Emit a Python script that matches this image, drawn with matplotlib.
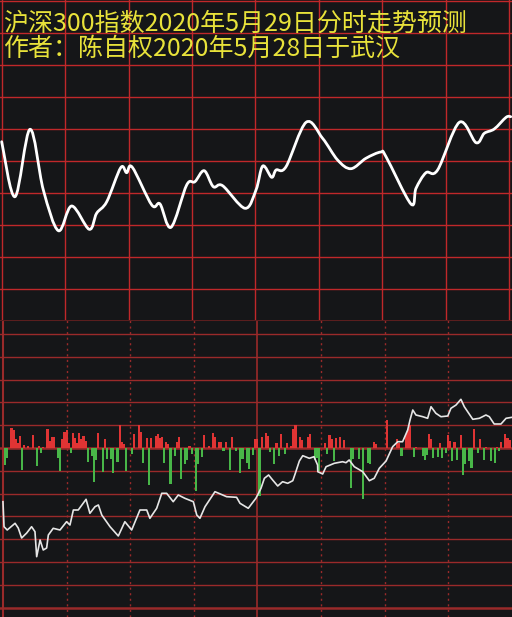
import matplotlib
matplotlib.use("Agg")
import matplotlib.pyplot as plt
from matplotlib.path import Path
from matplotlib.patches import PathPatch

plt.rcParams['font.family'] = ['Noto Sans CJK SC', 'DejaVu Sans']

# 标题文字
title1 = "沪深300指数2020年5月29日分时走势预测"
title2 = "作者：陈自权2020年5月28日于武汉"

# 上图：预测曲线（分钟序号, 数值）
pred_t = [0, 6.3, 13.4, 19.7, 26.8, 33.1, 41.4, 44.9, 49.7, 56.3, 59.1, 61.8, 71, 74.9,
          80.1, 87.5, 91.4, 95.8, 100.1, 104.5, 115.1, 120.3, 123.5, 127.7, 129.8, 134.5,
          144, 151.8, 158.9, 165.2, 172.3, 179.4, 181.8, 193.6, 196, 200.7, 206.2, 216.5,
          224.4, 228.3, 233, 238.6, 240.8]
pred_v = [178.3, 123.3, 190.7, 130, 89.3, 114, 90.7, 106.7, 118.3, 152.3, 147.3, 152.7, 115, 116,
          92.7, 135, 138.3, 149.3, 133.3, 134.3, 111.7, 130, 154, 142.7, 150, 153.3,
          197.7, 181.7, 160, 151.3, 161.7, 168, 163.3, 116, 131.7, 147.3, 150, 197.7,
          177.3, 186.7, 191, 202.7, 203.3]

# 下图：实际走势（分钟序号, 相对数值）
real_t = [0, 0.5, 2, 5.7, 7.2, 8.8, 11.2, 13.5, 15.1, 15.9, 17.5, 19, 20.6, 21.4, 23.7, 26.9,
          30, 31.6, 33.2, 35.5, 39.2, 41, 43.4, 45, 46.6, 50.5, 54.4, 57.5, 60.7, 64.6, 67.8,
          69.3, 72.5, 74.9, 77.2, 80.3, 82.7, 85.8, 89.8, 91.4, 92.9, 95.3, 100, 105.5, 110.2,
          111.8, 115.7, 119.3, 121.7, 123.3, 125.3, 127.2, 129.6, 131.9, 134.3, 136.7, 137.9,
          139.8, 141.4, 144.5, 146.7, 148.4, 148.5, 150.8, 152.4, 156.3, 160.2, 161.8, 163.3,
          165.7, 169.7, 172.8, 175.1, 177.5, 180.7, 183.8, 186.2, 188.5, 190.9, 192, 193.3,
          194.8, 198, 200.3, 201.9, 204.2, 206.6, 209.8, 211.3, 213.7, 216, 217.6, 221.6,
          224.7, 227.8, 229.4, 231.7, 234.9, 237.3, 240.1]
real_v = [-53.7, -78.7, -82, -75.3, -80, -90, -85, -78.7, -83.7, -108.7, -92, -102, -100, -87,
          -80.3, -82, -73.7, -77, -62, -62, -51.3, -65.3, -58.7, -57, -67, -78.7, -88, -73.7,
          -82, -62, -62, -70.3, -60.3, -45.3, -45.3, -53.7, -47, -50.3, -53.7, -67, -70.3,
          -58.7, -43.7, -48.7, -49.3, -55.3, -60.3, -50.3, -40.3, -30.3, -27, -32, -38, -33.7,
          -35.3, -32.7, -25.3, -13, -7.7, -10.3, -8.7, -17, -23.7, -26, -18.7, -15.3, -13.7,
          -14.7, -12, -18.7, -23.7, -32.7, -30.3, -20.3, -13, 1.3, 6.3, 6.3, 18, 28, 38, 33,
          31.3, 29.7, 41.3, 34.7, 31.3, 32, 39.7, 43, 48.7, 41.3, 28.7, 29.7, 33, 31.3, 24,
          24, 29.7, 30.7]

# 红柱（分钟序号, 高度）
up_t = [4, 5, 6, 7, 8, 10, 12, 14, 17, 19, 21, 22, 23, 24, 28, 29, 30, 31, 33, 34, 35, 36,
        37, 38, 39, 45, 48, 55, 56, 57, 62, 64, 65, 68, 70, 72, 73, 74, 75, 77, 78, 82, 83,
        88, 95, 97, 99, 100, 102, 103, 105, 108, 119, 120, 122, 124, 125, 129, 131, 134, 136,
        137, 138, 140, 141, 144, 145, 152, 154, 155, 157, 159, 161, 175, 176, 181, 186, 187,
        190, 191, 192, 195, 201, 202, 206, 210, 211, 213, 216, 222, 225, 228, 233, 235, 237,
        238, 239]
up_v = [19.7, 17.7, 8.7, 5.3, 12, 3, 2, 13, 1.7, 1, 18.7, 7, 11.3, 11.3, 8.7, 16.3, 18, 5.3,
        15.3, 9.7, 5.3, 14.7, 8.7, 12, 7, 15.3, 8.7, 23, 6.3, 3.7, 13.7, 22.7, 16.3, 9.7, 9.7,
        12, 13.7, 9.7, 11.3, 6.3, 4.3, 6.3, 11.3, 2, 12.7, 1.7, 15.3, 11, 6.3, 6.3, 6.3, 11.3,
        8.7, 8.7, 11, 15.3, 12, 5.3, 13.7, 5.3, 2, 18.7, 22.7, 11, 7.7, 11, 13.7, 5.3, 12.7,
        8.7, 9.7, 11.3, 7.7, 6.3, 3.7, 28, 8.7, 5.3, 13.7, 18.7, 22.7, 1.3, 13.7, 8.7, 5.3,
        13, 7, 6.3, 12.7, 18.7, 9.3, 1.3, 1.3, 6.3, 13.7, 9.7, 7.7]

# 绿柱（分钟序号, 高度）
down_t = [1, 2, 9, 16, 18, 26, 27, 32, 40, 42, 43, 44, 47, 49, 51, 52, 54, 58, 61, 66, 69, 76,
          79, 81, 84, 86, 87, 89, 91, 92, 94, 104, 107, 110, 112, 113, 115, 116, 118, 121, 126,
          128, 130, 133, 147, 148, 149, 153, 156, 164, 165, 168, 170, 172, 173, 188, 194, 198,
          199, 200, 203, 205, 207, 209, 212, 214, 217, 218, 220, 221, 224, 227, 230, 232, 234]
down_v = [17, 9.7, 22, 18, 5.3, 9.7, 23, 5.3, 13.7, 8, 34, 12, 23.7, 11.3, 11.3, 25.3, 13.7, 23,
          5.7, 14.7, 37.3, 14.7, 36.3, 8, 31.3, 16.3, 12.3, 5.7, 43, 16.3, 8.7, 3, 22.3, 3, 24.7,
          11.3, 14.7, 21.3, 7, 48, 3.7, 15.7, 8, 6.3, 12.3, 9.7, 23, 6.3, 13, 39.7, 11.3, 11.3,
          51, 14.7, 16.3, 8, 9, 8, 12.3, 7, 9.7, 9, 9.7, 4.7, 13, 12, 27, 16.3, 13, 19.7, 4.7,
          12.3, 13, 14.7, 3]

bg = '#151618'
grid_top = '#c0282a'
grid_bot = '#9a2a2a'


def smooth_path(xs, ys):
    # 用三次贝塞尔曲线把各点平滑连接（曲线经过每个数据点）
    pts = list(zip(xs, ys))
    n = len(pts)
    verts = [pts[0]]
    codes = [Path.MOVETO]
    for i in range(n - 1):
        p0 = pts[i - 1] if i > 0 else pts[i]
        p1 = pts[i]
        p2 = pts[i + 1]
        p3 = pts[i + 2] if i + 2 < n else pts[i + 1]
        c1 = (p1[0] + (p2[0] - p0[0]) / 6, p1[1] + (p2[1] - p0[1]) / 6)
        c2 = (p2[0] - (p3[0] - p1[0]) / 6, p2[1] - (p3[1] - p1[1]) / 6)
        verts += [c1, c2, p2]
        codes += [Path.CURVE4] * 3
    return Path(verts, codes)


fig = plt.figure(figsize=(5.12, 6.17), dpi=100, facecolor=bg)

# ---------- 上图 ----------
ax1 = fig.add_axes([0, 297 / 617, 1, 320 / 617])
ax1.set_facecolor(bg)
ax1.set_xlim(-0.8, 241.4)
ax1.set_ylim(0, 320)
for k in range(10):
    ax1.axhline(31 + 32 * k, color=grid_top, lw=1.0, zorder=1)
for k in range(9):
    ax1.axvline(30 * k, color=grid_top, lw=1.0, zorder=1)
ax1.add_patch(PathPatch(smooth_path(pred_t, pred_v), facecolor='none', edgecolor='white',
                        lw=2.0, joinstyle='round', capstyle='round', zorder=3))
ax1.set_xticks([])
ax1.set_yticks([])
for s in ax1.spines.values():
    s.set_visible(False)

# ---------- 下图 ----------
ax2 = fig.add_axes([0, 0, 1, 297 / 617])
ax2.set_facecolor(bg)
ax2.set_xlim(-1.4, 240.1)
ax2.set_ylim(-169, 128)
for k in range(-7, 6):
    lw = 1.8 if k in (0, -7) else 1.0
    ax2.axhline(22.8 * k, color=grid_bot, lw=lw, zorder=1)
for k in (1, 2, 3, 5, 6, 7):
    ax2.axvline(30 * k, color=grid_bot, lw=1.0, ls=(0, (1.5, 2.5)), zorder=1)
ax2.axvline(0, color=grid_bot, lw=1.5, zorder=1)
ax2.axvline(120, color=grid_bot, lw=1.2, zorder=1)
ax2.axhline(128, color='#5a1e1e', lw=1.5, zorder=1)
ax2.bar(up_t, up_v, width=1.0, color='#e03434', linewidth=0, zorder=2)
ax2.bar(down_t, [-v for v in down_v], width=1.0, color='#48b648', linewidth=0, zorder=2)
ax2.plot(real_t, real_v, color='#e6e6e6', lw=1.2, zorder=3)
ax2.set_xticks([])
ax2.set_yticks([])
for s in ax2.spines.values():
    s.set_visible(False)

# ---------- 标题 ----------
fig.text(3 / 512, 1 - 24 / 617, title1, color='#e8e23a', fontsize=18, va='center', ha='left')
fig.text(3 / 512, 1 - 49 / 617, title2, color='#e8e23a', fontsize=18, va='center', ha='left')

fig.savefig('out.png', dpi=100, facecolor=bg)
plt.close(fig)
